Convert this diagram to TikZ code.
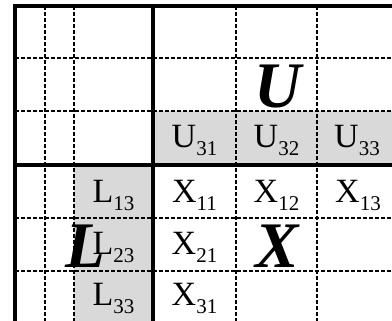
\documentclass[tikz,border=0pt]{standalone}
\usepackage{fontspec}
\setmainfont{Liberation Serif}
\newcommand{\lsub}[1]{\raisebox{-8pt}{\fontsize{21}{21}\selectfont #1}}
\tikzset{
  thickline/.style={line width=3.5pt},
  dashline/.style={line width=2.2pt, dash pattern=on 4pt off 2pt},
  entry/.style={anchor=base, inner sep=0pt, font=\fontsize{34}{34}\selectfont},
  bigletter/.style={anchor=base, inner sep=0pt, font=\fontsize{65}{65}\selectfont\bfseries\itshape},
}
\begin{document}
\begin{tikzpicture}[x=1pt,y=-1pt]
\useasboundingbox (0,0) rectangle (392,321);
% grey cells of U and L
\fill[black!15] (153,111) rectangle (392,165);
\fill[black!15] (74,165) rectangle (153,321);
% dashed grid
\draw[dashline] (45,6) -- (45,321);
\draw[dashline] (74,6) -- (74,321);
\draw[dashline] (236,6) -- (236,321);
\draw[dashline] (317,6) -- (317,321);
\draw[dashline] (15,58) -- (392,58);
\draw[dashline] (15,111) -- (392,111);
\draw[dashline] (15,218) -- (392,218);
\draw[dashline] (15,271) -- (392,271);
% solid lines
\draw[thickline] (15,4.25) -- (15,321);
\draw[thickline] (13.25,6) -- (392,6);
\draw[thickline] (153,6) -- (153,321);
\draw[thickline] (15,165) -- (392,165);
% U row
\node[entry] (u31) at (194.5,148) {U\lsub{31}};
\node[entry] (u32) at (276.5,148) {U\lsub{32}};
\node[entry] (u33) at (357,148) {U\lsub{33}};
% X block and L column
\node[entry] (l13) at (113.5,203) {L\lsub{13}};
\node[entry] (x11) at (194.5,203) {X\lsub{11}};
\node[entry] (x12) at (276.5,203) {X\lsub{12}};
\node[entry] (x13) at (358,203) {X\lsub{13}};
\node[entry] (l23) at (113.5,255) {L\lsub{23}};
\node[entry] (x21) at (194.5,255) {X\lsub{21}};
\node[entry] (l33) at (113.5,306) {L\lsub{33}};
\node[entry] (x31) at (194.5,306) {X\lsub{31}};
% big letters
\node[bigletter] (bigU) at (278,108) {U};
\node[bigletter] (bigX) at (277,268) {X};
\node[bigletter, anchor=base west] (bigL) at (65,268) {L};
\end{tikzpicture}
\end{document}
